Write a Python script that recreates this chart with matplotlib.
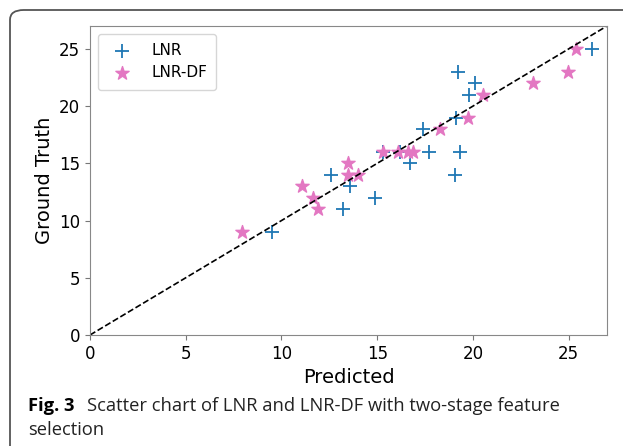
import matplotlib
matplotlib.use("Agg")
import matplotlib.pyplot as plt
from matplotlib.patches import FancyBboxPatch

lnr_pred = [9.5, 12.56, 13.6, 13.19, 14.9, 15.3, 16.18, 16.7, 17.7, 17.4, 19.05, 19.3, 19.1, 19.24, 19.8, 20.1, 26.2]
lnr_true = [9, 14, 13, 11, 12, 16, 16, 15, 16, 18, 14, 16, 19, 23, 21, 22, 25]

df_pred = [7.92, 11.05, 11.66, 11.9, 13.45, 13.45, 14.0, 15.3, 16.1, 16.6, 16.87, 18.27, 19.75, 20.5, 23.14, 24.96, 25.4]
df_true = [9, 13, 12, 11, 15, 14, 14, 16, 16, 16, 16, 18, 19, 21, 22, 23, 25]

diag = [0, 27]
x_ticks = [0, 5, 10, 15, 20, 25]
y_ticks = [0, 5, 10, 15, 20, 25]

W, H = 623, 446
fig = plt.figure(figsize=(W / 100, H / 100), dpi=100)

# outer rounded frame
frame = FancyBboxPatch((10 / W, -0.2), 1.2, (H - 10) / H + 0.2,
                       boxstyle="round,pad=0,rounding_size=0.022",
                       transform=fig.transFigure, facecolor="none",
                       edgecolor="#555555", linewidth=1.3, clip_on=False)
fig.patches.append(frame)

ax = fig.add_axes([90 / W, (H - 335) / H, (607 - 90) / W, (335 - 26) / H])
ax.scatter(lnr_pred, lnr_true, marker="+", s=110, color="#1f77b4", linewidths=1.3, label="LNR")
ax.scatter(df_pred, df_true, marker="*", s=100, color="#e377c2", label="LNR-DF")
ax.plot(diag, diag, linestyle="--", color="black", linewidth=1.2)
ax.set_xlim(0, 27)
ax.set_ylim(0, 27)
ax.set_xticks(x_ticks)
ax.set_yticks(y_ticks)
ax.tick_params(labelsize=12, color="#777777")
for s in ax.spines.values():
    s.set_color("#888888")
ax.set_xlabel("Predicted", fontsize=14)
ax.set_ylabel("Ground Truth", fontsize=14)
ax.legend(loc="upper left", fontsize=11, borderpad=0.6, handletextpad=0.9)

fig.text(28 / W, (H - 411) / H, "Fig. 3", fontsize=13.2, fontweight="bold", family="Open Sans", va="baseline")
fig.text(87 / W, (H - 411) / H, "Scatter chart of LNR and LNR-DF with two-stage feature", fontsize=13.2,
         family="Open Sans", va="baseline", color="#222222")
fig.text(28 / W, (H - 435) / H, "selection", fontsize=13.2, family="Open Sans", va="baseline", color="#222222")

fig.savefig("out.png", dpi=100)
